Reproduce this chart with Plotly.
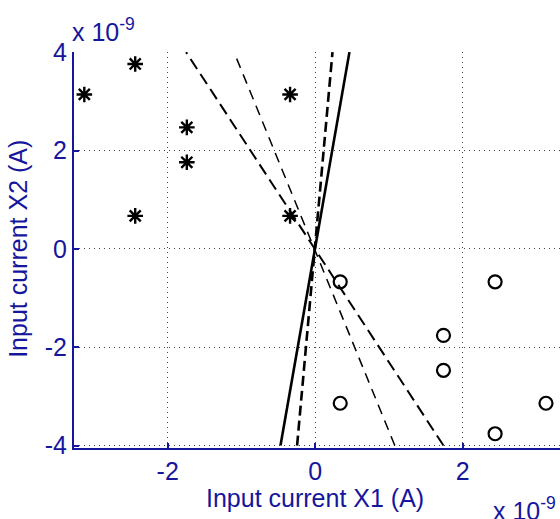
import plotly.graph_objects as go

# Data (units of 1e-9 A)
star_x = [-3.13, -2.44, -1.74, -1.74, -2.44, -0.34, -0.34]
star_y = [3.14, 3.76, 2.47, 1.76, 0.67, 3.14, 0.67]
circ_x = [0.34, 1.74, 1.74, 0.34, 2.44, 2.44, 3.13]
circ_y = [-0.67, -1.76, -2.47, -3.14, -0.67, -3.76, -3.14]

# Decision boundaries through origin: x value where each line reaches y=+4 / y=-4
line_x_top = [0.465, 0.235, -1.75, -1.10]
line_x_bot = [-0.47, -0.245, 1.74, 1.08]
line_y_top = 4.0
line_y_bot = -4.0

x_ticks = [-2, 0, 2]
y_ticks = [-4, -2, 0, 2, 4]
x_title = "Input current X1 (A)"
y_title = "Input current X2 (A)"
exp_label = "x 10<sup>-9</sup>"

BLUE = "#16169c"
FONT = "Liberation Sans, Arial, sans-serif"
FS = 25

styles = [
    dict(color="black", width=2.6, dash="solid"),
    dict(color="black", width=2.6, dash="10px,5px"),
    dict(color="black", width=2.0, dash="12px,6px"),
    dict(color="black", width=1.5, dash="10px,7px"),
]

fig = go.Figure()
for xt, xb, st in zip(line_x_top, line_x_bot, styles):
    fig.add_trace(go.Scatter(x=[xb, xt], y=[line_y_bot, line_y_top], mode="lines",
                             line=st, showlegend=False, hoverinfo="skip"))

fig.add_trace(go.Scatter(x=star_x, y=star_y, mode="markers", showlegend=False,
                         marker=dict(symbol="asterisk-open", size=13, color="black",
                                     line=dict(color="black", width=2.4))))
fig.add_trace(go.Scatter(x=circ_x, y=circ_y, mode="markers", showlegend=False,
                         marker=dict(symbol="circle-open", size=13, color="black",
                                     line=dict(color="black", width=2.2))))

fig.update_layout(
    width=560, height=519,
    margin=dict(l=74, r=0, t=52, b=71),
    plot_bgcolor="white", paper_bgcolor="white",
    font=dict(family=FONT, size=FS, color=BLUE),
    xaxis=dict(range=[-3.27, 3.32], tickvals=x_ticks, ticktext=[str(v) for v in x_ticks],
               showline=True, linecolor=BLUE, linewidth=2, mirror=False,
               ticks="inside", ticklen=5, tickcolor=BLUE, tickwidth=2,
               showgrid=True, gridcolor="#444444", gridwidth=1, griddash="1px,4px",
               zeroline=False, tickfont=dict(size=FS, color=BLUE, family=FONT)),
    yaxis=dict(range=[-4.05, 4.003], tickvals=y_ticks, ticktext=[str(v) for v in y_ticks],
               showline=True, linecolor=BLUE, linewidth=2, mirror=False,
               ticks="inside", ticklen=5, tickcolor=BLUE, tickwidth=2,
               showgrid=True, gridcolor="#444444", gridwidth=1, griddash="1px,4px",
               zeroline=False, tickfont=dict(size=FS, color=BLUE, family=FONT)),
    annotations=[
        dict(text=x_title, xref="x", x=0, yref="paper", y=0, yanchor="top", yshift=-34,
             showarrow=False, font=dict(size=FS, color=BLUE, family=FONT)),
        dict(text=y_title, xref="paper", x=0, xanchor="right", xshift=-40, yref="y", y=0,
             textangle=-90, showarrow=False, font=dict(size=FS, color=BLUE, family=FONT)),
        dict(text=exp_label, xref="paper", x=0, xanchor="left", xshift=-4, yref="paper", y=1,
             yanchor="bottom", yshift=4, showarrow=False,
             font=dict(size=FS, color=BLUE, family=FONT)),
        dict(text=exp_label, xref="paper", x=1, xanchor="right", xshift=-2, yref="paper", y=0,
             yanchor="top", yshift=-43, showarrow=False,
             font=dict(size=FS, color=BLUE, family=FONT)),
    ],
)

fig.write_html(
    "out.html",
    config={"displayModeBar": False},
    post_script="document.body.style.margin='0';document.body.style.overflow='hidden';",
)
